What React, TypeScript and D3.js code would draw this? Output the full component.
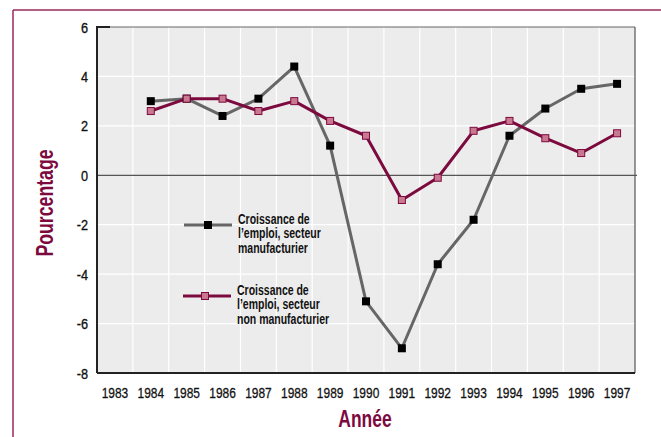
import React from "react";
import * as d3 from "d3";

const years = ["1983","1984","1985","1986","1987","1988","1989","1990","1991","1992","1993","1994","1995","1996","1997"];
const dataYears = ["1984","1985","1986","1987","1988","1989","1990","1991","1992","1993","1994","1995","1996","1997"];
const manufacturing = [3.0, 3.1, 2.4, 3.1, 4.4, 1.2, -5.1, -7.0, -3.6, -1.8, 1.6, 2.7, 3.5, 3.7];
const nonManufacturing = [2.6, 3.1, 3.1, 2.6, 3.0, 2.2, 1.6, -1.0, -0.1, 1.8, 2.2, 1.5, 0.9, 1.7];
const yTicks = [6, 4, 2, 0, -2, -4, -6, -8];
const legend1 = ["Croissance de", "l\u2019emploi, secteur", "manufacturier"];
const legend2 = ["Croissance de", "l\u2019emploi, secteur", "non manufacturier"];

const W = 661, H = 437;
const L = 97, R = 635, T = 27, B = 373;
const MAROON = "#7d0a3f";
const FRAME = "#9a2a5a";
const GRAY = "#666666";
const PINK = "#c9788f";
const FONT = "'Liberation Sans', Arial, sans-serif";

function CText(props: {
  x: number; y: number; sx: number; size: number; anchor?: string; bold?: boolean;
  fill?: string; rotate?: number; dy?: string; sw?: number; children: React.ReactNode;
}) {
  const { x, y, sx, size, anchor = "start", bold = false, fill = "#111", rotate = 0, dy, sw = 0, children } = props;
  return (
    <text
      transform={`translate(${x},${y}) rotate(${rotate}) scale(${sx},1)`}
      textAnchor={anchor as any}
      dy={dy}
      fontFamily={FONT}
      fontWeight={bold ? "bold" : "normal"}
      fontSize={size}
      fill={fill}
      stroke={sw > 0 ? fill : "none"}
      strokeWidth={sw}
    >
      {children}
    </text>
  );
}

export default function App() {
  const x = d3.scaleBand<string>().domain(years).range([L, R]);
  const xc = (y: string) => (x(y) as number) + x.bandwidth() / 2;
  const y = d3.scaleLinear().domain([-8, 6]).range([B, T]);
  const line = d3.line<number>().x((_, i) => xc(dataYears[i])).y((d) => y(d));
  const ms = 8;

  return (
    <svg width={W} height={H} style={{ position: "absolute", left: 0, top: 0, background: "#fff" }}>
      <line x1={13} x2={W} y1={10} y2={10} stroke={FRAME} strokeWidth={1.5} />
      <line x1={13} x2={13} y1={10} y2={H} stroke={FRAME} strokeWidth={1.5} />

      <rect x={L} y={T} width={R - L} height={B - T} fill="#ececec" />
      {years.slice(1).map((yr) => (
        <line key={yr} x1={x(yr)} x2={x(yr)} y1={T} y2={B} stroke="#fff" strokeWidth={1.2} />
      ))}
      {yTicks.filter((t) => t !== 6 && t !== -8 && t !== 0).map((t) => (
        <line key={t} x1={L} x2={R} y1={y(t)} y2={y(t)} stroke="#fff" strokeWidth={1.2} />
      ))}
      <line x1={L} x2={R + 2} y1={y(0)} y2={y(0)} stroke="#555" strokeWidth={1.2} />
      <line x1={L} x2={R} y1={T} y2={T} stroke="#666" strokeWidth={1.2} />
      <line x1={R} x2={R} y1={T} y2={B} stroke="#555" strokeWidth={1.2} />
      <line x1={L} x2={L} y1={T - 1} y2={B} stroke="#222" strokeWidth={2} />
      <line x1={L} x2={R} y1={B} y2={B} stroke="#222" strokeWidth={2} />
      <line x1={L} x2={L + 13} y1={T} y2={T} stroke="#222" strokeWidth={2} />

      {yTicks.map((t) => (
        <CText key={t} x={88} y={y(t)} dy="0.36em" sx={0.82} size={15.5} anchor="end" sw={0.35}>
          {t}
        </CText>
      ))}
      {years.map((yr) => (
        <CText key={yr} x={xc(yr)} y={392} dy="0.36em" sx={0.77} size={15.5} anchor="middle" sw={0.3}>
          {yr}
        </CText>
      ))}

      <path d={line(manufacturing) || ""} fill="none" stroke={GRAY} strokeWidth={3} strokeLinejoin="round" />
      <path d={line(nonManufacturing) || ""} fill="none" stroke={MAROON} strokeWidth={3} strokeLinejoin="round" />
      {manufacturing.map((v, i) => (
        <rect key={"m" + i} x={xc(dataYears[i]) - ms / 2} y={y(v) - ms / 2} width={ms} height={ms} fill="#000" />
      ))}
      {nonManufacturing.map((v, i) => (
        <rect key={"n" + i} x={xc(dataYears[i]) - 3.5} y={y(v) - 3.5} width={7} height={7} fill={PINK} stroke={MAROON} strokeWidth={1} />
      ))}

      <line x1={184} x2={232} y1={225} y2={225} stroke={GRAY} strokeWidth={3} />
      <rect x={208 - 4} y={225 - 4} width={8} height={8} fill="#000" />
      {legend1.map((s, i) => (
        <CText key={s} x={238} y={224 + i * 14.3} sx={0.75} size={14} bold>
          {s}
        </CText>
      ))}
      <line x1={183} x2={231} y1={296} y2={296} stroke={MAROON} strokeWidth={3} />
      <rect x={205 - 3.5} y={296 - 3.5} width={7} height={7} fill={PINK} stroke={MAROON} strokeWidth={1} />
      {legend2.map((s, i) => (
        <CText key={s} x={237} y={295 + i * 14.3} sx={0.75} size={14} bold>
          {s}
        </CText>
      ))}

      <CText x={53} y={203} rotate={-90} sx={0.77} size={23} anchor="middle" bold fill={MAROON}>
        Pourcentage
      </CText>
      <CText x={365} y={427} sx={0.76} size={23} anchor="middle" bold fill={MAROON}>
        Année
      </CText>
    </svg>
  );
}
